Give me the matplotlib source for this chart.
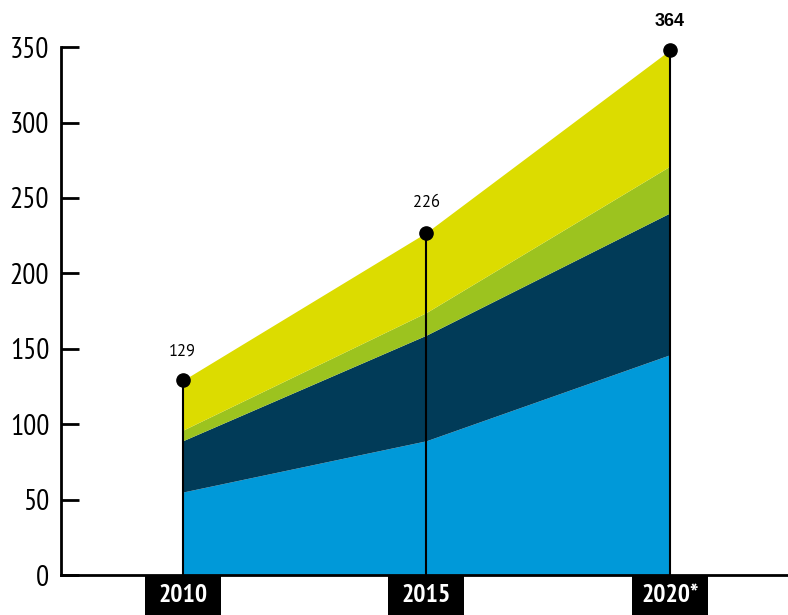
import numpy as np
from matplotlib import pyplot as plt
from matplotlib.patches import Rectangle
from matplotlib.transforms import blended_transform_factory

years = [2010, 2015, 2020]
year_labels = ['2010', '2015', '2020*']
# cumulative tops of each band
light_blue_top = [55, 89, 146]
navy_top = [89, 159, 240]
green_top = [96, 174, 271]
yellow_top = [129, 227, 348]
total_labels = ['129', '226', '364']
label_bold = [False, False, True]

colors = ['#0099d9', '#013b58', '#9cc31f', '#dcdc00']
narrow = ['PT Sans Narrow', 'DejaVu Sans']

fig = plt.figure(figsize=(7.88, 6.15), dpi=100)
ax = fig.add_axes([61 / 788, 40 / 615, 727 / 788, 558 / 615])

tops = [np.zeros(3), np.array(light_blue_top), np.array(navy_top),
        np.array(green_top), np.array(yellow_top)]
for i in range(4):
    ax.fill_between(years, tops[i], tops[i + 1], color=colors[i], lw=0)

for x, top, lab, bold in zip(years, yellow_top, total_labels, label_bold):
    ax.plot([x, x], [0, top], color='black', lw=1.5, solid_capstyle='butt')
    ax.plot(x, top, 'o', color='black', ms=9.5)
    if bold:
        ax.annotate(lab, (x, top), xytext=(0, 21), textcoords='offset points',
                    ha='center', va='center', fontsize=13, fontweight='bold',
                    family=['Liberation Sans', 'DejaVu Sans'])
    else:
        ax.annotate(lab, (x, top), xytext=(0, 21), textcoords='offset points',
                    ha='center', va='center', fontsize=12,
                    family=['PT Sans', 'DejaVu Sans'])

ax.set_xlim(2007.5, 2022.43)
ax.set_ylim(0, 370)
ax.set_yticks(range(0, 351, 50))
ax.set_xticks([])
ax.spines['top'].set_visible(False)
ax.spines['right'].set_visible(False)
ax.spines['left'].set_bounds(0, 350)
ax.spines['left'].set_linewidth(2)
ax.spines['bottom'].set_linewidth(2)
ax.tick_params(axis='y', direction='in', length=13, width=2, pad=8.5)
for t in ax.get_yticklabels():
    t.set_family(narrow)
    t.set_fontsize(21)

# black year boxes under the axis
trans = blended_transform_factory(ax.transData, ax.transAxes)
for x, lab in zip(years, year_labels):
    ax.add_patch(Rectangle((x - 0.78, -0.075), 1.56, 0.075, transform=trans,
                           facecolor='black', edgecolor='none', clip_on=False))
    ax.text(x, -0.037, lab, transform=trans, ha='center', va='center',
            color='white', fontsize=18.5, fontweight='bold', family=narrow)

fig.savefig('out.png', dpi=100)
